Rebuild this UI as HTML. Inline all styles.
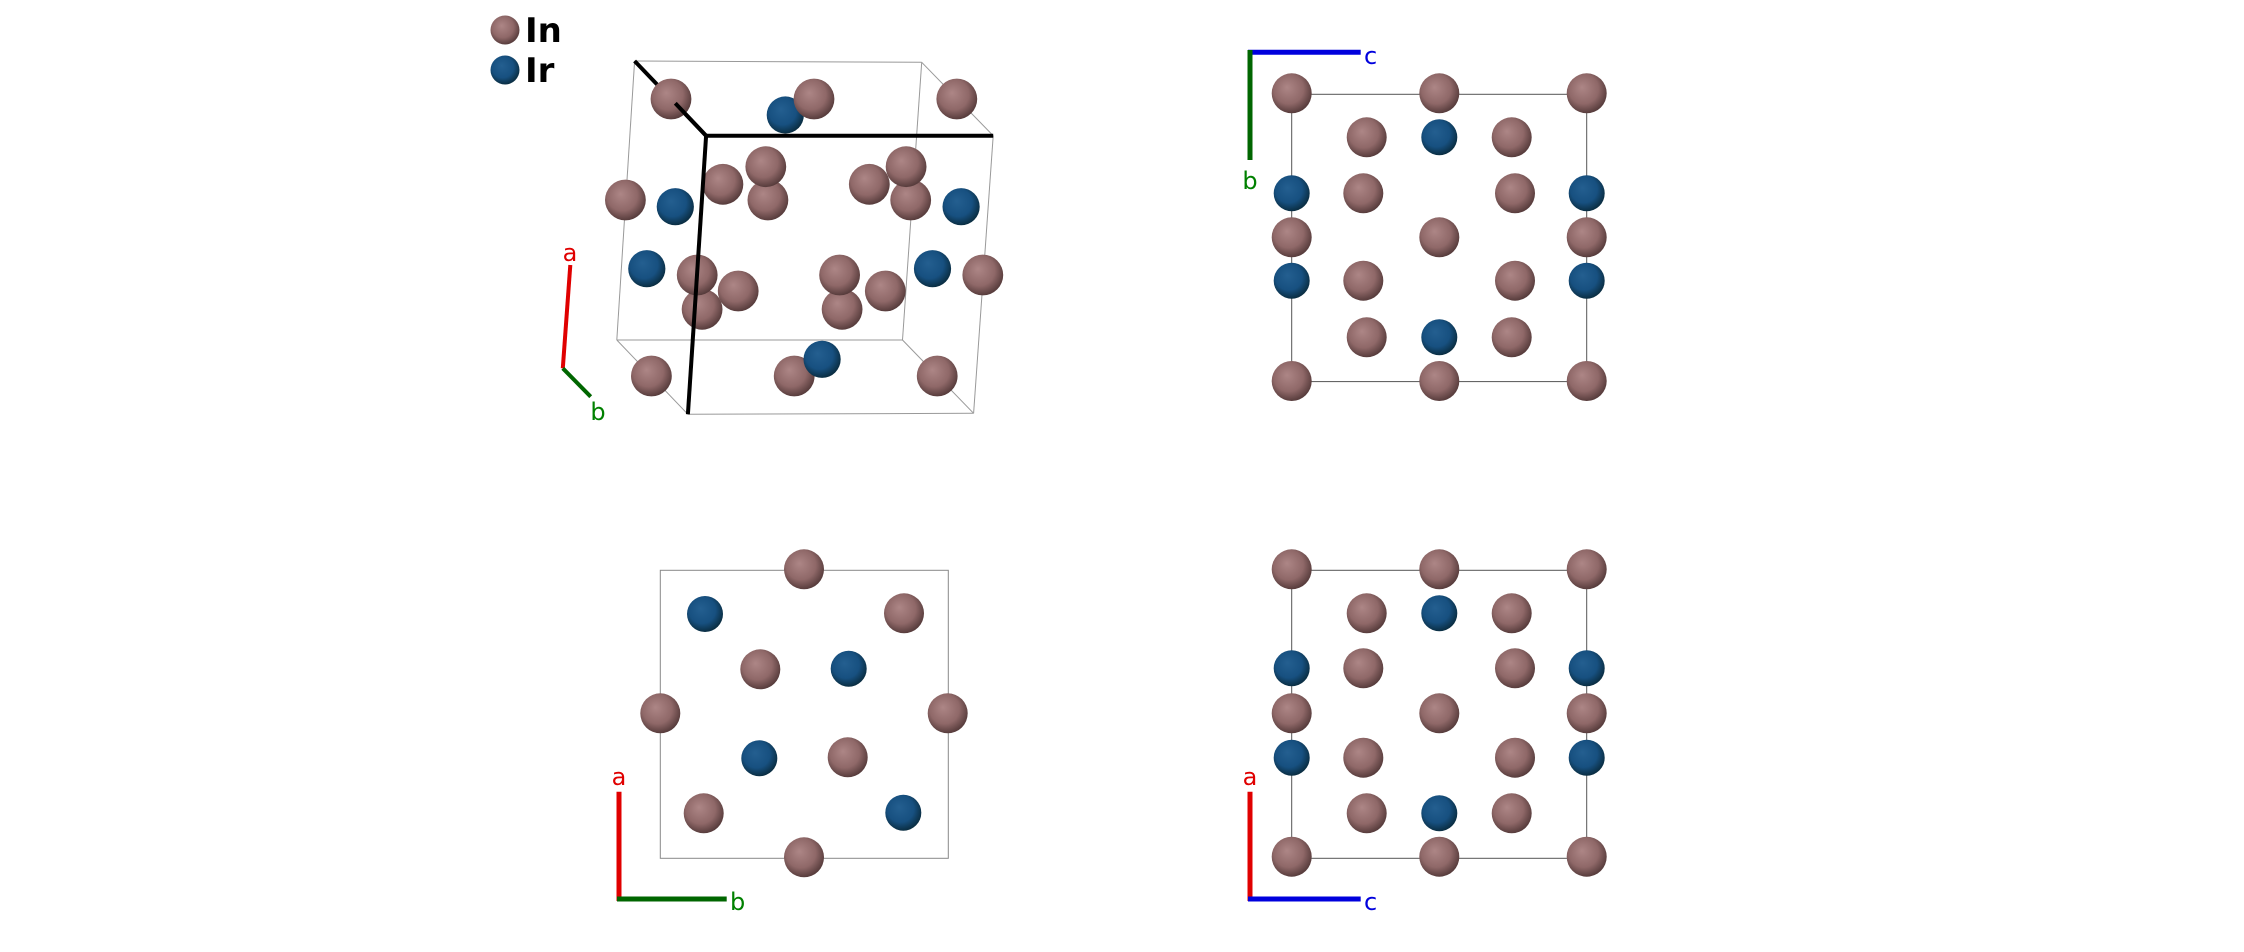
<!DOCTYPE html>
<html><head><meta charset="utf-8"><style>
html,body{margin:0;padding:0;background:#fff;}
svg{display:block;}
text{font-family:"DejaVu Sans","Liberation Sans",sans-serif;}
</style></head><body>
<svg width="2244" height="952" viewBox="0 0 2244 952" xmlns="http://www.w3.org/2000/svg">
<defs>
<radialGradient id="gi" cx="45%" cy="42%" r="62%" fx="38%" fy="35%">
<stop offset="0" stop-color="#ad8686"/><stop offset="0.6" stop-color="#8f6868"/><stop offset="1" stop-color="#4e3535"/>
</radialGradient>
<radialGradient id="gr" cx="45%" cy="42%" r="62%" fx="38%" fy="35%">
<stop offset="0" stop-color="#245f90"/><stop offset="0.6" stop-color="#175080"/><stop offset="1" stop-color="#082838"/>
</radialGradient>
</defs>

<!-- Legend -->
<circle cx="505" cy="30" r="14.5" fill="url(#gi)"/>
<circle cx="505" cy="70" r="14.5" fill="url(#gr)"/>
<text x="525" y="42" font-size="34" font-weight="bold" fill="#000">In</text>
<text x="525" y="82" font-size="34" font-weight="bold" fill="#000">Ir</text>

<!-- Panel 1 thin box -->
<g stroke="#999" stroke-width="1" fill="none">
<line x1="634.6" y1="61" x2="921.7" y2="62.3"/>
<line x1="921.7" y1="62.3" x2="993.2" y2="135.7"/>
<line x1="634.6" y1="61" x2="616.8" y2="340"/>
<line x1="616.8" y1="340" x2="902.5" y2="340"/>
<line x1="902.5" y1="340" x2="973.6" y2="413.3"/>
<line x1="973.6" y1="413.3" x2="687.9" y2="414.3"/>
<line x1="616.8" y1="340" x2="687.9" y2="414.3"/>
<line x1="921.7" y1="62.3" x2="902.5" y2="340"/>
<line x1="993.2" y1="135.7" x2="973.6" y2="413.3"/>
</g>
<line x1="634.6" y1="61" x2="706.1" y2="135.7" stroke="#000" stroke-width="4"/>

<g>
<circle cx="785.3" cy="115" r="18.6" fill="url(#gr)"/>
<circle cx="671" cy="99" r="20.4" fill="url(#gi)"/>
<circle cx="814" cy="99" r="20.4" fill="url(#gi)"/>
<circle cx="956.8" cy="99" r="20.4" fill="url(#gi)"/>
<circle cx="722.9" cy="184.3" r="20.4" fill="url(#gi)"/>
<circle cx="767.9" cy="200" r="20.4" fill="url(#gi)"/>
<circle cx="765.8" cy="166.7" r="20.4" fill="url(#gi)"/>
<circle cx="869.3" cy="184.3" r="20.4" fill="url(#gi)"/>
<circle cx="910.7" cy="200" r="20.4" fill="url(#gi)"/>
<circle cx="906.1" cy="166.7" r="20.4" fill="url(#gi)"/>
<circle cx="625.4" cy="200" r="20.4" fill="url(#gi)"/>
<circle cx="675.3" cy="206.7" r="18.6" fill="url(#gr)"/>
<circle cx="961.1" cy="206.7" r="18.6" fill="url(#gr)"/>
<circle cx="646.8" cy="268.7" r="18.6" fill="url(#gr)"/>
<circle cx="702.1" cy="309.3" r="20.4" fill="url(#gi)"/>
<circle cx="738.2" cy="291" r="20.4" fill="url(#gi)"/>
<circle cx="697.2" cy="275" r="20.4" fill="url(#gi)"/>
<circle cx="842.1" cy="309.3" r="20.4" fill="url(#gi)"/>
<circle cx="839.6" cy="275" r="20.4" fill="url(#gi)"/>
<circle cx="885.3" cy="291" r="20.4" fill="url(#gi)"/>
<circle cx="932.5" cy="268.7" r="18.6" fill="url(#gr)"/>
<circle cx="982.8" cy="275" r="20.4" fill="url(#gi)"/>
<circle cx="651.4" cy="376" r="20.4" fill="url(#gi)"/>
<circle cx="794.2" cy="376" r="20.4" fill="url(#gi)"/>
<circle cx="822.1" cy="359.3" r="18.6" fill="url(#gr)"/>
<circle cx="937.2" cy="376" r="20.4" fill="url(#gi)"/>
</g>
<g stroke="#000" stroke-width="4" fill="none">
<line x1="675.3" y1="103.3" x2="706.1" y2="135.7"/>
<line x1="706.1" y1="135.7" x2="993.2" y2="135.7"/>
<line x1="706.1" y1="135.7" x2="687.9" y2="414.3"/>
</g>
<!-- Panel 1 axes -->
<line x1="570.3" y1="265" x2="562.8" y2="368.3" stroke="#e00000" stroke-width="4"/>
<line x1="562.8" y1="368.3" x2="590.7" y2="396.7" stroke="#006600" stroke-width="4"/>
<text x="570" y="261" font-size="24" fill="#e00000" text-anchor="middle">a</text>
<text x="598" y="420" font-size="24" fill="#008000" text-anchor="middle">b</text>

<!-- Panel 2 -->
<rect x="1291.7" y="94.3" width="295" height="287.3" fill="none" stroke="#555" stroke-width="1"/>
<g>
<circle cx="1291.7" cy="93.3" r="20" fill="url(#gi)"/>
<circle cx="1439.3" cy="93.3" r="20" fill="url(#gi)"/>
<circle cx="1586.7" cy="93.3" r="20" fill="url(#gi)"/>
<circle cx="1366.7" cy="137.3" r="20" fill="url(#gi)"/>
<circle cx="1439.3" cy="137.3" r="18" fill="url(#gr)"/>
<circle cx="1511.7" cy="137.3" r="20" fill="url(#gi)"/>
<circle cx="1291.7" cy="193.3" r="18" fill="url(#gr)"/>
<circle cx="1363.3" cy="193.3" r="20" fill="url(#gi)"/>
<circle cx="1515" cy="193.3" r="20" fill="url(#gi)"/>
<circle cx="1586.7" cy="193.3" r="18" fill="url(#gr)"/>
<circle cx="1291.7" cy="237.3" r="20" fill="url(#gi)"/>
<circle cx="1439.3" cy="237.3" r="20" fill="url(#gi)"/>
<circle cx="1586.7" cy="237.3" r="20" fill="url(#gi)"/>
<circle cx="1291.7" cy="280.7" r="18" fill="url(#gr)"/>
<circle cx="1363.3" cy="280.7" r="20" fill="url(#gi)"/>
<circle cx="1515" cy="280.7" r="20" fill="url(#gi)"/>
<circle cx="1586.7" cy="280.7" r="18" fill="url(#gr)"/>
<circle cx="1366.7" cy="337.3" r="20" fill="url(#gi)"/>
<circle cx="1439.3" cy="337.3" r="18" fill="url(#gr)"/>
<circle cx="1511.7" cy="337.3" r="20" fill="url(#gi)"/>
<circle cx="1291.7" cy="381" r="20" fill="url(#gi)"/>
<circle cx="1439.3" cy="381" r="20" fill="url(#gi)"/>
<circle cx="1586.7" cy="381" r="20" fill="url(#gi)"/>
</g>
<line x1="1248" y1="52.3" x2="1360.7" y2="52.3" stroke="#0000dd" stroke-width="5"/>
<line x1="1250" y1="50" x2="1250" y2="160" stroke="#006600" stroke-width="5"/>
<text x="1364" y="64" font-size="24" fill="#0000dd">c</text>
<text x="1250" y="189" font-size="24" fill="#008000" text-anchor="middle">b</text>

<!-- Panel 3 -->
<rect x="660.3" y="570.3" width="288" height="288" fill="none" stroke="#888" stroke-width="1"/>
<g>
<circle cx="804" cy="569.3" r="20" fill="url(#gi)"/>
<circle cx="705" cy="614" r="18" fill="url(#gr)"/>
<circle cx="904" cy="613.3" r="20" fill="url(#gi)"/>
<circle cx="760.3" cy="669.3" r="20" fill="url(#gi)"/>
<circle cx="848.7" cy="668.7" r="18" fill="url(#gr)"/>
<circle cx="660.3" cy="713.3" r="20" fill="url(#gi)"/>
<circle cx="947.7" cy="713.3" r="20" fill="url(#gi)"/>
<circle cx="759.3" cy="758.3" r="18" fill="url(#gr)"/>
<circle cx="847.7" cy="757.3" r="20" fill="url(#gi)"/>
<circle cx="703.7" cy="813.3" r="20" fill="url(#gi)"/>
<circle cx="903.3" cy="812.7" r="18" fill="url(#gr)"/>
<circle cx="804" cy="857.3" r="20" fill="url(#gi)"/>
</g>
<line x1="619" y1="791.7" x2="619" y2="901" stroke="#e00000" stroke-width="5"/>
<line x1="617" y1="899" x2="726.7" y2="899" stroke="#006600" stroke-width="5"/>
<text x="619" y="785" font-size="24" fill="#e00000" text-anchor="middle">a</text>
<text x="730" y="910" font-size="24" fill="#008000">b</text>

<!-- Panel 4 -->
<rect x="1291.7" y="570.3" width="295" height="288" fill="none" stroke="#555" stroke-width="1"/>
<g>
<circle cx="1291.7" cy="569.3" r="20" fill="url(#gi)"/>
<circle cx="1439.3" cy="569.3" r="20" fill="url(#gi)"/>
<circle cx="1586.7" cy="569.3" r="20" fill="url(#gi)"/>
<circle cx="1366.7" cy="613.3" r="20" fill="url(#gi)"/>
<circle cx="1439.3" cy="613.3" r="18" fill="url(#gr)"/>
<circle cx="1511.7" cy="613.3" r="20" fill="url(#gi)"/>
<circle cx="1291.7" cy="668.3" r="18" fill="url(#gr)"/>
<circle cx="1363.3" cy="668.3" r="20" fill="url(#gi)"/>
<circle cx="1515" cy="668.3" r="20" fill="url(#gi)"/>
<circle cx="1586.7" cy="668.3" r="18" fill="url(#gr)"/>
<circle cx="1291.7" cy="713.3" r="20" fill="url(#gi)"/>
<circle cx="1439.3" cy="713.3" r="20" fill="url(#gi)"/>
<circle cx="1586.7" cy="713.3" r="20" fill="url(#gi)"/>
<circle cx="1291.7" cy="757.7" r="18" fill="url(#gr)"/>
<circle cx="1363.3" cy="757.7" r="20" fill="url(#gi)"/>
<circle cx="1515" cy="757.7" r="20" fill="url(#gi)"/>
<circle cx="1586.7" cy="757.7" r="18" fill="url(#gr)"/>
<circle cx="1366.7" cy="813.3" r="20" fill="url(#gi)"/>
<circle cx="1439.3" cy="813.3" r="18" fill="url(#gr)"/>
<circle cx="1511.7" cy="813.3" r="20" fill="url(#gi)"/>
<circle cx="1291.7" cy="856.7" r="20" fill="url(#gi)"/>
<circle cx="1439.3" cy="856.7" r="20" fill="url(#gi)"/>
<circle cx="1586.7" cy="856.7" r="20" fill="url(#gi)"/>
</g>
<line x1="1250" y1="791.7" x2="1250" y2="901" stroke="#e00000" stroke-width="5"/>
<line x1="1248" y1="899" x2="1360.7" y2="899" stroke="#0000dd" stroke-width="5"/>
<text x="1250" y="785" font-size="24" fill="#e00000" text-anchor="middle">a</text>
<text x="1364" y="910" font-size="24" fill="#0000dd">c</text>
</svg>
</body></html>
